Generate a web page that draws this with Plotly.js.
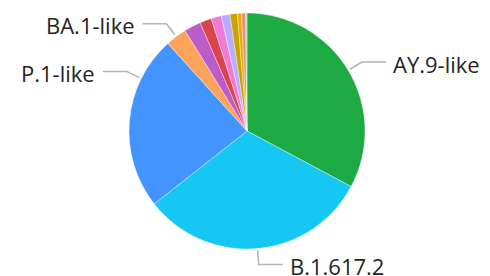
<!DOCTYPE html>
<html>
<head>
<meta charset="utf-8">
<script src="https://cdn.plot.ly/plotly-3.0.1.min.js"></script>
<style>
html,body{margin:0;padding:0;background:#fff;}
#chart{width:490px;height:276px;}
</style>
</head>
<body>
<div id="chart"></div>
<script>
// ---- data (percent share) ----
const labels = ["AY.9-like", "B.1.617.2", "P.1-like", "BA.1-like", "Other 1", "Other 2", "Other 3", "Other 4", "Other 5", "Other 6", "Other 7", "Other 8"];
const values = [32.8, 31.6, 23.9, 2.9, 2.3, 1.6, 1.4, 1.2, 1.0, 0.55, 0.55, 0.2];
const colors = ["#1eaa42", "#17c7f3", "#4394fe", "#fea35c", "#bb5cc8", "#d9444d", "#f07bd6", "#b8adff", "#c9a300", "#e2b000", "#f08a80", "#9fd9a5"];
const shownLabels = ["AY.9-like", "B.1.617.2", "P.1-like", "BA.1-like"];

// ---- layout geometry (pixels) ----
const W = 490, H = 276;
const CX = 247, CY = 131, R = 118;
const px = x => x / W;
const py = y => 1 - y / H;

const total = values.reduce((a, b) => a + b, 0);
const shapes = [];
const annotations = [];
let cum = 0;
values.forEach((v, i) => {
  const start = cum / total * 360;
  cum += v;
  const end = cum / total * 360;
  if (!shownLabels.includes(labels[i])) return;
  const frac = labels[i] === "P.1-like" ? 0.75 : 0.5;
  const ang = (start + (end - start) * frac) * Math.PI / 180;
  const sx = Math.sin(ang), sy = -Math.cos(ang);
  const x0 = CX + sx * (R + 2), y0 = CY + sy * (R + 2);
  const x1 = CX + sx * (R + 16), y1 = CY + sy * (R + 16);
  const right = sx >= 0;
  const x2 = x1 + (right ? 24 : -24);
  shapes.push({
    type: "path", xref: "paper", yref: "paper",
    path: `M ${px(x0)},${py(y0)} L ${px(x1)},${py(y1)} L ${px(x2)},${py(y1)}`,
    line: {color: "#b4b4b4", width: 1.5}
  });
  annotations.push({
    xref: "paper", yref: "paper",
    x: px(x2 + (right ? 5 : -6)), y: py(y1 + 1.5),
    xanchor: right ? "left" : "right", yanchor: "middle",
    text: labels[i], showarrow: false,
    font: {family: "Open Sans, Noto Sans, sans-serif", size: 22, color: "#252423"}
  });
});

const trace = {
  type: "pie",
  labels: labels,
  values: values,
  sort: false,
  direction: "clockwise",
  rotation: 0,
  textinfo: "none",
  hoverinfo: "label+percent",
  marker: {colors: colors, line: {color: "rgba(255,255,255,0.6)", width: 0.6}},
  domain: {x: [px(CX - R), px(CX + R)], y: [py(CY + R), py(CY - R)]},
  showlegend: false
};

const layout = {
  width: W, height: H,
  margin: {l: 0, r: 0, t: 0, b: 0},
  paper_bgcolor: "#ffffff",
  showlegend: false,
  shapes: shapes,
  annotations: annotations
};

Plotly.newPlot("chart", [trace], layout, {staticPlot: true, displayModeBar: false});
</script>
</body>
</html>
